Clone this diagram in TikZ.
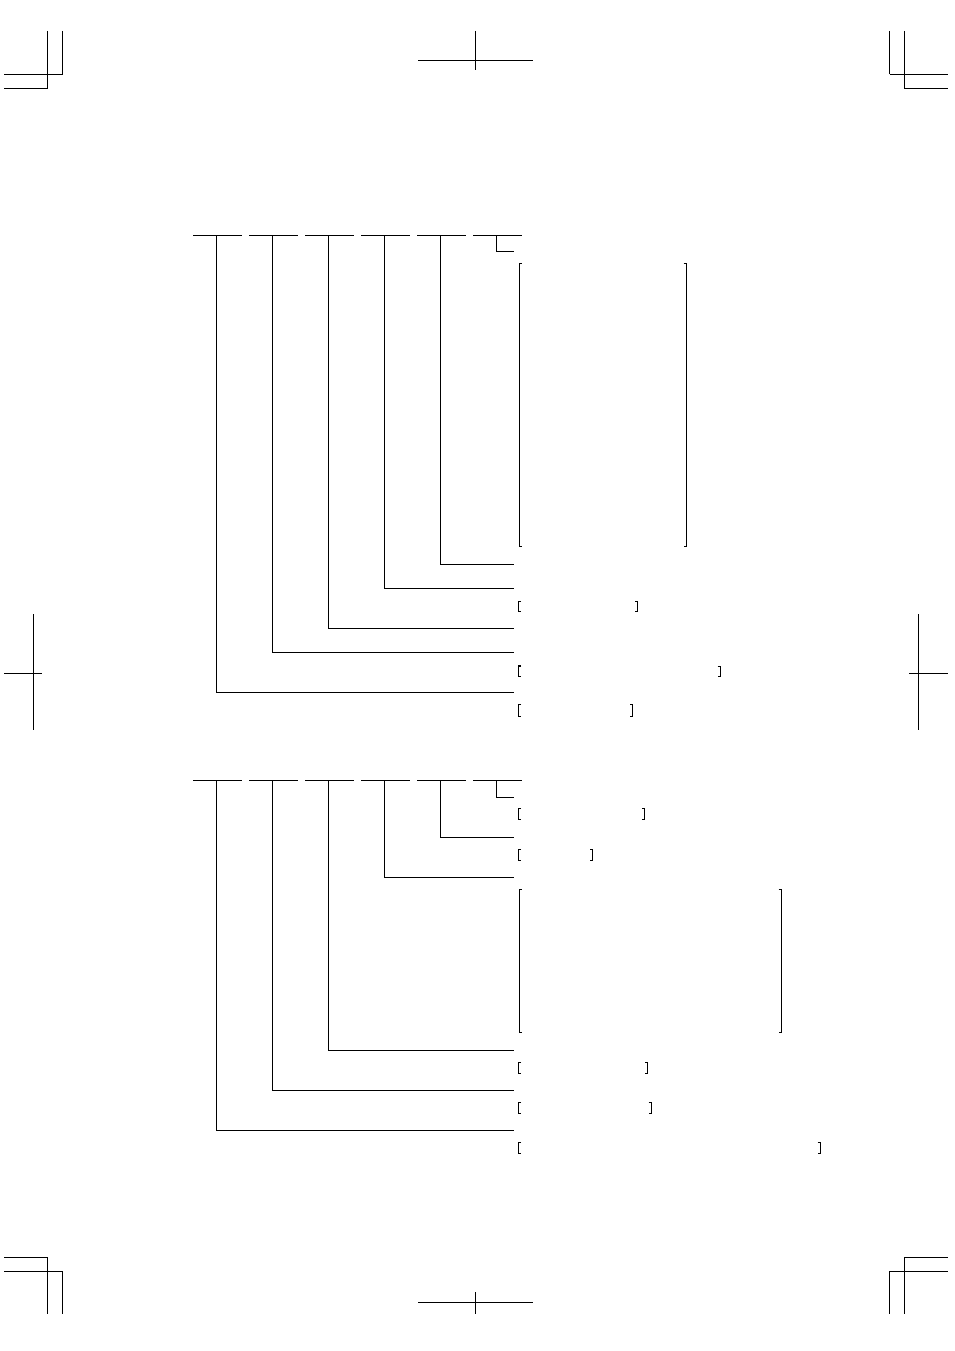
\documentclass[tikz,border=0pt]{standalone}
\tikzset{
  treeline/.style={line width=1pt, line cap=rect},
  bracketline/.style={line width=1pt},
  boldbracket/.style={line width=1.8pt},
  cropline/.style={line width=0.9pt},
  thincrop/.style={line width=0.5pt}
}
% left bracket: x, ytop, ybottom, style
\newcommand\lbrk[4]{\draw[#4] (#1+2.5,#2) -- (#1,#2) -- (#1,#3) -- (#1+2.5,#3);}
\newcommand\rbrk[4]{\draw[#4] (#1-2.5,#2) -- (#1,#2) -- (#1,#3) -- (#1-2.5,#3);}
\begin{document}
\begin{tikzpicture}[x=1pt,y=-1pt]
\useasboundingbox (0,0) rectangle (954,1351);
\fill[white] (0,0) rectangle (954,1351);

% ---------------- crop marks ----------------
% top left
\draw[cropline] (47.5,31) -- (47.5,89);
\draw[cropline] (62.5,31) -- (62.5,74.5);
\draw[cropline] (4,74.5) -- (62.5,74.5);
\draw[cropline] (4,88.5) -- (47.5,88.5);
% top right
\draw[cropline] (904,31) -- (904,89);
\draw[cropline] (889.5,31) -- (889.5,74.5);
\draw[cropline] (889.5,74.5) -- (947.5,74.5);
\draw[cropline] (904,88.5) -- (947.5,88.5);
% top centre
\draw[cropline] (418,60) -- (533,60);
\draw[thincrop] (475.5,31) -- (475.5,70);
% bottom left
\draw[cropline] (4,1257) -- (47.5,1257);
\draw[cropline] (4,1271) -- (62.5,1271);
\draw[cropline] (47.5,1257) -- (47.5,1314);
\draw[cropline] (62.5,1271) -- (62.5,1314);
% bottom right
\draw[cropline] (904,1257) -- (947.5,1257);
\draw[cropline] (889.5,1271) -- (947.5,1271);
\draw[cropline] (904,1257) -- (904,1314);
\draw[cropline] (889.5,1271) -- (889.5,1314);
% bottom centre
\draw[cropline] (418,1302) -- (533,1302);
\draw[thincrop] (475.5,1292) -- (475.5,1314);
% sides
\draw[thincrop] (33,614) -- (33,730);
\draw[cropline] (4,673) -- (41.5,673);
\draw[thincrop] (918.5,614) -- (918.5,730);
\draw[cropline] (909,673) -- (947.5,673);

% ---------------- top tree ----------------
\foreach \k/\yend in {0/692, 1/652, 2/628, 3/588, 4/564}{
  \pgfmathsetmacro\xs{193+56*\k}
  \pgfmathsetmacro\xv{216.5+56*\k}
  \coordinate (ta\k) at (\xs,235);
  \coordinate (tb\k) at (\xs+48,235);
  \coordinate (tv\k) at (\xv,235);
  \coordinate (tc\k) at (\xv,\yend);
  \coordinate (td\k) at (513,\yend);
  \draw[treeline] (ta\k) -- (tb\k);
  \draw[treeline] (tv\k) -- (tc\k) -- (td\k);
}
\coordinate (ta5) at (473,235);
\coordinate (tb5) at (521,235);
\coordinate (tv5) at (496.5,235);
\coordinate (tc5) at (496.5,251.5);
\coordinate (td5) at (513,251.5);
\draw[treeline] (ta5) -- (tb5);
\draw[treeline] (tv5) -- (tc5) -- (td5);

% top brackets
\lbrk{519}{263.5}{546}{bracketline}
\rbrk{686}{263.5}{546}{bracketline}
\lbrk{518.5}{601}{611}{bracketline}
\rbrk{637.5}{601}{611}{bracketline}
\lbrk{518.5}{666}{676.5}{boldbracket}
\rbrk{720}{666}{676.5}{bracketline}
\lbrk{518.5}{704.5}{716.5}{bracketline}
\rbrk{632.5}{704.5}{716.5}{boldbracket}

% ---------------- bottom tree ----------------
\foreach \k/\yend in {0/1130, 1/1090, 2/1050, 3/877, 4/837}{
  \pgfmathsetmacro\xs{193+56*\k}
  \pgfmathsetmacro\xv{216.5+56*\k}
  \coordinate (ba\k) at (\xs,780);
  \coordinate (bb\k) at (\xs+48,780);
  \coordinate (bv\k) at (\xv,780);
  \coordinate (bc\k) at (\xv,\yend);
  \coordinate (bd\k) at (513,\yend);
  \draw[treeline] (ba\k) -- (bb\k);
  \draw[treeline] (bv\k) -- (bc\k) -- (bd\k);
}
\coordinate (ba5) at (473,780);
\coordinate (bb5) at (521,780);
\coordinate (bv5) at (496.5,780);
\coordinate (bc5) at (496.5,797);
\coordinate (bd5) at (513,797);
\draw[treeline] (ba5) -- (bb5);
\draw[treeline] (bv5) -- (bc5) -- (bd5);

% bottom brackets
\lbrk{518.5}{808}{819}{bracketline}
\rbrk{644.5}{808}{819}{bracketline}
\lbrk{518.5}{849.5}{860.5}{boldbracket}
\rbrk{592.5}{849.5}{860.5}{bracketline}
\lbrk{519}{889}{1032.5}{bracketline}
\rbrk{781}{889}{1032.5}{bracketline}
\lbrk{518.5}{1062}{1073}{bracketline}
\rbrk{647.5}{1062}{1073}{bracketline}
\lbrk{518.5}{1102}{1113}{bracketline}
\rbrk{651}{1102}{1113}{bracketline}
\lbrk{518.5}{1142}{1153}{bracketline}
\rbrk{820}{1142}{1153}{bracketline}
\end{tikzpicture}
\end{document}
